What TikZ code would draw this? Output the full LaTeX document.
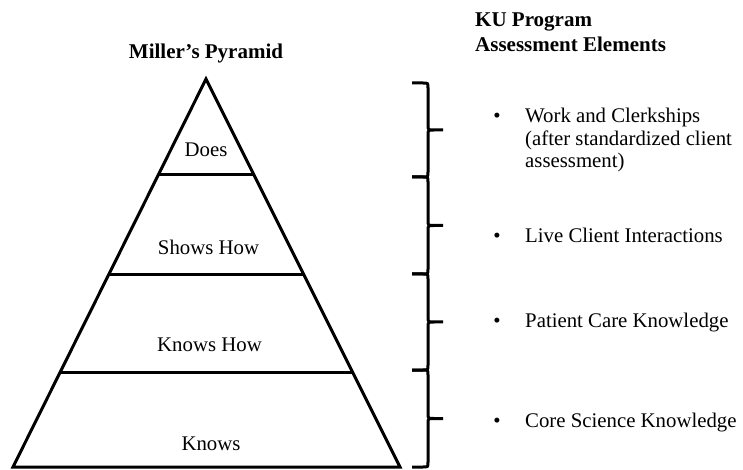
\documentclass[tikz,border=0pt]{standalone}
\usepackage{fontspec}
\setmainfont{Liberation Serif}
\usetikzlibrary{calc}
\begin{document}
\begin{tikzpicture}[x=1bp,y=-1bp,
  txt/.style={inner sep=0pt,font=\fontsize{20.8bp}{22.5bp}\selectfont},
  ttl/.style={txt,font=\fontsize{21bp}{25bp}\selectfont\bfseries},
  pyr/.style={line width=3bp,line join=miter},
  brc/.style={line width=3bp,line cap=butt}]
\useasboundingbox (0,0) rectangle (743,470);
% pyramid
\coordinate (apex) at (206,79);
\coordinate (bl) at (13,467);
\coordinate (br) at (400,467);
\draw[pyr] (apex) -- (br) -- (bl) -- cycle;
\foreach \f/\n in {0.2474/a,0.5026/b,0.7577/c}{
  \coordinate (L\n) at ($(apex)!\f!(bl)$);
  \coordinate (R\n) at ($(apex)!\f!(br)$);
  \draw[pyr] (L\n) -- (R\n);
}
\node[txt,anchor=base] (does) at (206,157) {Does};
\node[txt,anchor=base] (shows) at (208.5,255) {Shows How};
\node[txt,anchor=base] (knowshow) at (209.5,352) {Knows How};
\node[txt,anchor=base] (knows) at (211,450) {Knows};
% titles
\node[ttl,anchor=base] (miller) at (206,59) {Miller’s Pyramid};
\node[ttl,anchor=base west] (ku1) at (475,27) {KU Program};
\node[ttl,anchor=base west] (ku2) at (475,52) {Assessment Elements};
% braces
\foreach \t/\b in {83/177,177/274,274/370,370/467}{
  \pgfmathsetmacro\m{(\t+\b)/2}
  \draw[brc] (412,\t) -- (423,\t) .. controls (428,\t) .. (428,\t+5)
    -- (428,\m-5) .. controls (428,\m) .. (434,\m) -- (443,\m)
    (434,\m) .. controls (428,\m) .. (428,\m+5)
    -- (428,\b-5) .. controls (428,\b) .. (423,\b) -- (412,\b);
}
% items
\node[txt,anchor=base] (b1) at (497,123) {•};
\node[txt,anchor=base west] (i1a) at (525,123) {Work and Clerkships};
\node[txt,anchor=base west] (i1b) at (525,145.5) {(after standardized client};
\node[txt,anchor=base west] (i1c) at (525,168) {assessment)};
\node[txt,anchor=base] (b2) at (497,243) {•};
\node[txt,anchor=base west] (i2) at (525,243) {Live Client Interactions};
\node[txt,anchor=base] (b3) at (497,328) {•};
\node[txt,anchor=base west] (i3) at (525,328) {Patient Care Knowledge};
\node[txt,anchor=base] (b4) at (497,427) {•};
\node[txt,anchor=base west] (i4) at (525,427) {Core Science Knowledge};
\end{tikzpicture}
\end{document}
